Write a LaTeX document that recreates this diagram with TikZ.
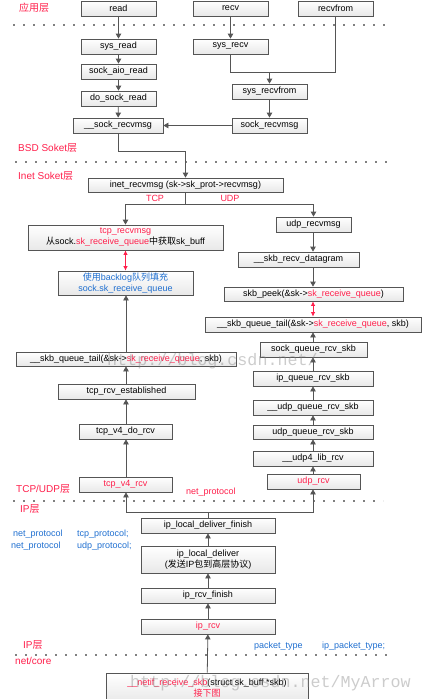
\documentclass[tikz,border=0pt]{standalone}
\usepackage{fontspec}
\setmainfont{Liberation Sans}
\newfontfamily\cjk{Noto Sans CJK SC}
\newfontfamily\wmfont{Liberation Mono}
\usetikzlibrary{arrows.meta}
\definecolor{myred}{HTML}{FF1F4B}
\definecolor{myblue}{HTML}{1F6FD0}
\definecolor{lc}{HTML}{555555}
\newcommand\mybox[6]{\node[box,minimum width=#4pt,minimum height=#5pt] (#1) at (#2,#3) {#6};}
\begin{document}
\begin{tikzpicture}[x=1pt,y=-1pt,
  box/.style={draw=lc, line width=0.8pt, top color=white, bottom color=gray!18, inner sep=0pt, font=\fontsize{9}{11}\selectfont, align=center},
  arr/.style={draw=lc, line width=0.8pt, -{Triangle[width=5.5pt,length=5pt]}},
  ln/.style={draw=lc, line width=0.8pt},
  rarr/.style={draw=myred, line width=0.8pt, {Latex[width=4.5pt,length=4.5pt]}-{Latex[width=4.5pt,length=4.5pt]}},
  sep/.style={draw=gray, line width=1.2pt, dash pattern=on 2pt off 8pt},
  lay/.style={text=myred, font=\fontsize{10}{12}\selectfont, anchor=west, inner sep=0pt},
  lbl/.style={font=\fontsize{9}{11}\selectfont, inner sep=0pt},
  wmark/.style={font=\wmfont\fontsize{16.7}{17}\selectfont, text=gray, opacity=0.4, anchor=west, inner sep=0pt},
]
\useasboundingbox (0,0) rectangle (423,699);

% separators
\draw[sep] (13,25) -- (388,25);
\draw[sep] (15,162) -- (388,162);
\draw[sep] (13,501) -- (383,501);
\draw[sep] (15,655) -- (391,655);

% layer labels
\node[lay] (l1) at (19,8) {\cjk 应用层};
\node[lay] (l2) at (18,148) {BSD Soket{\cjk 层}};
\node[lay] (l3) at (18,176) {Inet Soket{\cjk 层}};
\node[lay] (l4) at (16,489) {TCP/UDP{\cjk 层}};
\node[lay] (l5) at (20,509) {IP{\cjk 层}};
\node[lay] (l6) at (23,645) {IP{\cjk 层}};
\node[lay] (l7) at (15,661) {net/core};
\node[lbl,text=myred] (ltcp) at (155,198) {TCP};
\node[lbl,text=myred] (ludp) at (230,198) {UDP};
\node[lbl,text=myred,anchor=west] (lnp) at (186,492) {net\_protocol};
\node[lbl,text=myblue,anchor=west] (b1) at (13,534) {net\_protocol};
\node[lbl,text=myblue,anchor=west] (b2) at (77,534) {tcp\_protocol;};
\node[lbl,text=myblue,anchor=west] (b3) at (11,546) {net\_protocol};
\node[lbl,text=myblue,anchor=west] (b4) at (77,546) {udp\_protocol;};
\node[lbl,text=myblue,anchor=west] (b5) at (254,646) {packet\_type};
\node[lbl,text=myblue,anchor=west] (b6) at (322,646) {ip\_packet\_type;};

% boxes
\mybox{read}{118.5}{8.5}{75}{15}{read}
\mybox{recv}{230.5}{8.5}{75}{15}{recv}
\mybox{recvfrom}{335.5}{8.5}{75}{15}{recvfrom}
\mybox{sysread}{118.5}{46.5}{75}{15}{sys\_read}
\mybox{sysrecv}{230.5}{46.5}{75}{15}{sys\_recv}
\mybox{aio}{118.5}{71.5}{75}{15}{sock\_aio\_read}
\mybox{dosock}{118.5}{98.5}{75}{15}{do\_sock\_read}
\mybox{sysrecvfrom}{269.5}{91.5}{75}{15}{sys\_recvfrom}
\mybox{usockmsg}{118}{125.5}{90}{15}{\_\_sock\_recvmsg}
\mybox{sockmsg}{269.5}{125.5}{75}{15}{sock\_recvmsg}
\mybox{inet}{185.5}{185}{195}{14}{inet\_recvmsg (sk->sk\_prot->recvmsg)}
\mybox{udpmsg}{313.5}{224.5}{75}{15}{udp\_recvmsg}
\mybox{tcpmsg}{125.5}{237.5}{195}{25}{\textcolor{myred}{tcp\_recvmsg}\\{\cjk 从}sock.\textcolor{myred}{sk\_receive\_queue}{\cjk 中获取}sk\_buff}
\mybox{backlog}{125.5}{283}{135}{24}{\textcolor{myblue}{{\cjk 使用}backlog{\cjk 队列填充}}\\\textcolor{myblue}{sock.sk\_receive\_queue}}
\mybox{skbrecv}{298.5}{259.5}{121}{15}{\_\_skb\_recv\_datagram}
\mybox{skbpeek}{313.5}{294}{179}{14}{skb\_peek(\&sk->\textcolor{myred}{sk\_receive\_queue})}
\mybox{qtailR}{313}{324.5}{216}{15}{\_\_skb\_queue\_tail(\&sk->\textcolor{myred}{sk\_receive\_queue}, skb)}
\mybox{sockq}{313.5}{349.5}{107}{15}{sock\_queue\_rcv\_skb}
\mybox{ipq}{313}{378.5}{120}{15}{ip\_queue\_rcv\_skb}
\mybox{uudpq}{313}{407.5}{120}{15}{\_\_udp\_queue\_rcv\_skb}
\mybox{udpq}{313}{432}{120}{14}{udp\_queue\_rcv\_skb}
\mybox{udpfour}{313}{458.5}{120}{15}{\_\_udp4\_lib\_rcv}
\mybox{udprcv}{313.5}{481.5}{93}{15}{\textcolor{myred}{udp\_rcv}}
\mybox{qtailL}{126}{359}{220}{14}{\_\_skb\_queue\_tail(\&sk->\textcolor{myred}{sk\_receive\_queue}, skb)}
\mybox{tcpest}{126.5}{391.5}{137}{15}{tcp\_rcv\_established}
\mybox{tcpdo}{125.5}{431.5}{93}{15}{tcp\_v4\_do\_rcv}
\mybox{tcpvfour}{125.5}{484.5}{93}{15}{\textcolor{myred}{tcp\_v4\_rcv}}
\mybox{ipldf}{208}{525.5}{134}{15}{ip\_local\_deliver\_finish}
\mybox{ipld}{208}{559.5}{134}{27}{ip\_local\_deliver\\({\cjk 发送}IP{\cjk 包到高层协议})}
\mybox{iprf}{208}{595.5}{134}{15}{ip\_rcv\_finish}
\mybox{iprcv}{208}{626.5}{134}{15}{\textcolor{myred}{ip\_rcv}}
\mybox{netif}{207}{688}{202}{30}{\textcolor{myred}{\_\_netif\_receive\_skb}(struct sk\_buff *skb)\\\textcolor{myred}{\cjk 接下图}}

% junction coordinates
\coordinate (j1) at (269.5,72);
\coordinate (j2) at (185.5,151);
\coordinate (j3) at (185.5,204);
\coordinate (j4) at (208,512);
\coordinate (colU) at (313,0);

% connectors
\draw[arr] (read) -- (sysread);
\draw[arr] (sysread) -- (aio);
\draw[arr] (aio) -- (dosock);
\draw[arr] (dosock) -- (usockmsg);
\draw[arr] (recv) -- (sysrecv);
\draw[ln] (sysrecv.south) |- (j1);
\draw[ln] (recvfrom.south) |- (j1);
\draw[arr] (j1) -- (sysrecvfrom.north);
\draw[arr] (sysrecvfrom) -- (sockmsg);
\draw[arr] (sockmsg) -- (usockmsg);
\draw[arr] (usockmsg.south) |- (j2) -- (inet.north);
\draw[ln] (inet.south) -- (j3);
\draw[arr] (j3) -| (tcpmsg.north);
\draw[arr] (j3) -| (udpmsg.north);
\draw[rarr] (tcpmsg) -- (backlog);
\draw[arr] (udpmsg.south -| colU) -- (skbrecv.north -| colU);
\draw[arr] (skbrecv.south -| colU) -- (skbpeek.north -| colU);
\draw[rarr] (skbpeek.south -| colU) -- (qtailR.north -| colU);
\draw[arr] (sockq.north -| colU) -- (qtailR.south -| colU);
\draw[arr] (ipq) -- (sockq.south -| colU);
\draw[arr] (uudpq) -- (ipq);
\draw[arr] (udpq) -- (uudpq);
\draw[arr] (udpfour) -- (udpq);
\draw[arr] (udprcv.north -| colU) -- (udpfour.south -| colU);
\draw[arr] (qtailL) -- (backlog.south -| qtailL.north);
\draw[arr] (tcpest.north -| qtailL.north) -- (qtailL);
\draw[arr] (tcpdo.north -| qtailL.north) -- (tcpest.south -| qtailL.north);
\draw[arr] (tcpvfour.north -| qtailL.north) -- (tcpdo.south -| qtailL.north);
\draw[ln] (ipldf.north) -- (j4);
\draw[arr] (j4) -| (tcpvfour.south -| qtailL.north);
\draw[arr] (j4) -| (udprcv.south -| colU);
\draw[arr] (ipld) -- (ipldf);
\draw[arr] (iprf) -- (ipld);
\draw[arr] (iprcv) -- (iprf);
\draw[arr] (netif) -- (iprcv);

% watermark
\node[wmark] (wm1) at (107,361) {http://blog.csdn.net/};
\node[wmark] (wm2) at (130,683) {http://blog.csdn.net/MyArrow};
\end{tikzpicture}
\end{document}
